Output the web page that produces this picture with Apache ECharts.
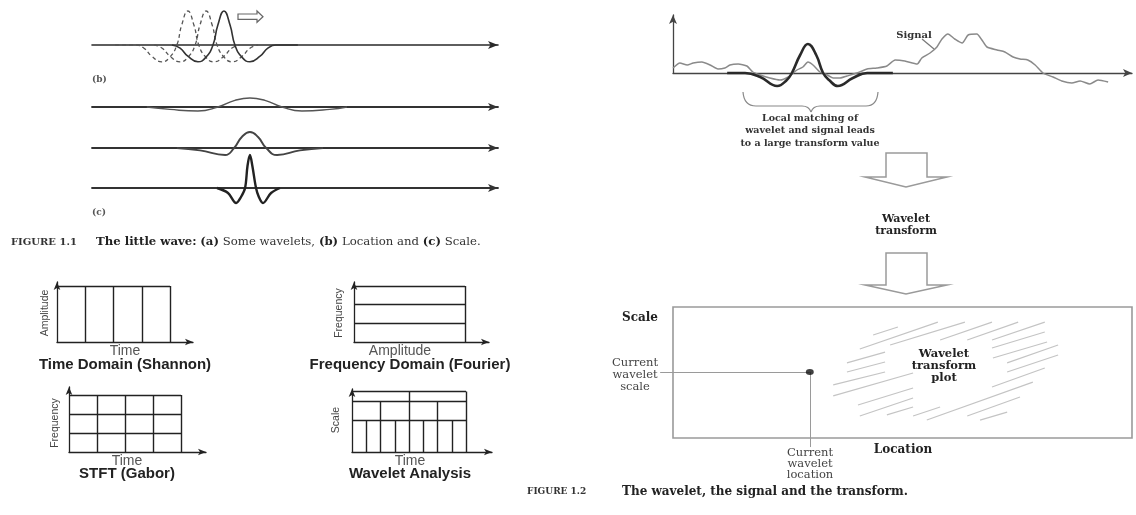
<!DOCTYPE html>
<html><head><meta charset="utf-8">
<script src="https://cdn.jsdelivr.net/npm/echarts/dist/echarts.min.js"></script>
<style>html,body{margin:0;padding:0;background:#fff}#c{width:1136px;height:515px}</style>
</head><body><div id="c"></div><script>
// ---------- DATA ----------
// (b) Location: wavelet shifted along time (amplitude units)
const locDash1 = [[5.7,0],[10.8,0],[12.8,-0.08],[14.7,-0.28],[17.2,-0.42],[19.2,-0.3],[20.9,0],[22.1,0.5],[23.6,0.85],[25.1,0.5],[26.3,0],[28.0,-0.3],[30.0,-0.42],[32.5,-0.28],[34.4,-0.08],[36.4,0]];
const locDash2 = [[15.3,0],[17.3,-0.08],[19.2,-0.28],[21.7,-0.42],[23.7,-0.3],[25.4,0],[26.6,0.5],[28.1,0.85],[29.6,0.5],[30.8,0],[32.5,-0.3],[34.5,-0.42],[37.0,-0.28],[38.9,-0.08],[40.9,0]];
const locSolid = [[19.7,0],[21.7,-0.08],[23.6,-0.28],[26.1,-0.42],[28.1,-0.3],[29.8,0],[31.0,0.5],[32.5,0.85],[34.0,0.5],[35.2,0],[36.9,-0.3],[38.9,-0.42],[41.4,-0.28],[43.3,-0.08],[45.3,0],[50.7,0]];
// (c) Scale: stretched / compressed wavelets
const scaleWide = [[13.5,0],[19.2,-0.12],[26.1,-0.2],[31.0,0],[35.2,0.33],[38.9,0.45],[42.6,0.33],[46.8,0],[51.7,-0.2],[58.6,-0.12],[62.8,0]];
const scaleMid = [[20.9,0],[26.6,-0.12],[32.8,-0.35],[35.0,0],[36.9,0.55],[38.9,0.8],[40.9,0.55],[42.9,0],[45.6,-0.35],[51.2,-0.12],[56.9,0]];
const scaleNarrow = [[30.8,0],[33.5,-0.25],[35.5,-0.75],[36.7,-0.45],[37.7,0],[38.3,1.1],[38.9,1.65],[39.5,1.1],[40.4,0],[41.1,-0.45],[42.1,-0.75],[44.1,-0.25],[46.3,0]];
// tiling diagrams
const shannonTimes = [1,2,3,4];
const fourierFreqs = [1,2,3];
const gaborTimes = [1,2,3,4];
const gaborFreqs = [1,2,3];
const waveletScales = [3.15,5.1,6.05];
const waveletTimesByLevel = [[1,3,5,7],[2,6],[4,8]];
// Figure 1.2: signal and local wavelet
const signal = [[0,0.25],[1.5,0.5],[3.1,0.4],[4.4,0.5],[6.3,0.55],[8.1,0.4],[9.8,0.2],[11.3,0.25],[12.4,0.4],[14.2,0.45],[16.1,0.35],[17.4,0.05],[19.0,-0.1],[21.1,-0.25],[23.3,-0.35],[25.1,-0.2],[27.0,0.15],[28.3,0.3],[29.4,0.55],[30.5,0.4],[32.0,0.05],[33.6,-0.1],[34.9,-0.25],[36.4,-0.25],[37.9,-0.15],[40.1,0],[42.3,0.2],[44.4,0.25],[46.6,0.35],[48.4,0.65],[50.5,0.6],[53.2,0.45],[54.2,0.75],[56.0,1.0],[57.5,1.3],[58.6,1.7],[59.9,1.95],[61.4,1.7],[63.0,1.5],[64.3,1.9],[66.2,1.95],[67.3,1.65],[68.4,1.3],[70.6,1.15],[72.3,1.05],[74.1,0.8],[75.6,0.7],[77.3,0.65],[78.9,0.4],[80.6,0],[82.8,-0.2],[84.7,-0.4],[86.9,-0.5],[88.7,-0.4],[90.8,-0.55],[92.6,-0.35],[94.8,-0.45]];
const localWavelet = [[11.8,0],[15.7,0],[19.0,-0.2],[22.7,-0.65],[24.8,-0.35],[25.9,0],[27.7,0.9],[29.4,1.45],[31.2,0.9],[32.7,0],[34.0,-0.35],[35.9,-0.65],[39.2,-0.25],[42.3,0],[47.9,0]];
// transform plot (location 0-100, scale 0-10)
const currentPoint = [29.8,5.04];
const scaleLeaderStart = -2.8;
const locationLeaderEnd = -0.69;
const hatch = [
 [[43.6,7.86],[49.0,8.47]],[[40.7,6.79],[57.7,8.85]],[[47.3,7.10],[63.6,8.85]],[[58.2,7.48],[69.5,8.85]],
 [[64.1,7.48],[75.2,8.85]],[[69.5,7.48],[81.0,8.85]],[[69.5,6.87],[81.0,8.09]],[[69.7,6.11],[81.5,7.33]],
 [[72.8,5.73],[83.9,7.10]],[[72.8,5.04],[83.9,6.34]],[[69.5,3.89],[81.0,5.34]],[[37.9,5.73],[46.2,6.56]],
 [[37.9,5.04],[46.2,5.80]],[[34.9,4.05],[46.2,5.04]],[[34.9,3.21],[52.3,4.96]],[[40.3,2.52],[52.3,3.82]],
 [[40.7,1.68],[52.3,3.05]],[[46.6,1.76],[52.3,2.37]],[[52.3,1.68],[58.2,2.37]],[[55.3,1.37],[78.4,4.27]],
 [[64.1,1.68],[75.6,3.13]],[[66.9,1.37],[72.8,1.98]]
];

// ---------- BUILD ----------
const grids = [
 {left:92, top:5, width:406, height:80},
 {left:92, top:67, width:406, height:80},
 {left:92, top:108, width:406, height:80},
 {left:92, top:148, width:406, height:80},
 {left:57, top:282, width:136, height:60},
 {left:354, top:282, width:135, height:60},
 {left:69, top:387, width:137, height:65},
 {left:352, top:389, width:140, height:63},
 {left:673, top:15, width:459, height:58},
 {left:673, top:307, width:459, height:131, show:true, borderColor:'#9a9a9a', borderWidth:1.6}
];
function ax(gi, min, max, show, color, width, size){
  return {gridIndex:gi, type:'value', min, max, show,
    axisLine:{show:true, onZero:true, symbol:['none','arrow'], symbolSize:size||[6,9], lineStyle:{color:color||'#333', width:width||1.5}},
    axisTick:{show:false}, axisLabel:{show:false}, splitLine:{show:false}};
}
const xAxes = [
 ax(0,0,100,true,'#2a2a2a',1.6,[6,10]), ax(1,0,100,true,'#333',1.8,[6,10]), ax(2,0,100,true,'#333',1.8,[6,10]), ax(3,0,100,true,'#333',1.8,[6,10]),
 ax(4,0,4.81,true,'#222',1.3,[5,8]), ax(5,0,1.216,true,'#222',1.3,[5,8]), ax(6,0,4.89,true,'#222',1.3,[5,8]), ax(7,0,9.82,true,'#222',1.3,[5,8]),
 ax(8,0,100,true,'#444',1.3,[6,9]), ax(9,0,100,false)
];
const yAxes = [
 ax(0,-1,1,false), ax(1,-2,2,false), ax(2,-2,2,false), ax(3,-2,2,false),
 ax(4,0,1.07,true,'#222',1.3,[5,8]), ax(5,0,3.21,true,'#222',1.3,[5,8]), ax(6,0,3.42,true,'#222',1.3,[5,8]), ax(7,0,6.3,true,'#222',1.3,[5,8]),
 ax(8,0,2.9,true,'#444',1.3,[6,9]), ax(9,0,10,false)
];
function curve(gi, data, color, width, type, smooth){
  return {type:'line', xAxisIndex:gi, yAxisIndex:gi, data, showSymbol:false, symbol:'none', smooth:smooth===undefined?0.5:smooth, clip:false, silent:true,
    lineStyle:{color, width, type:type||'solid'}};
}
function segs(gi, list, color, width, clip){
  return {type:'lines', coordinateSystem:'cartesian2d', xAxisIndex:gi, yAxisIndex:gi, polyline:false, silent:true, clip:clip!==false,
    symbol:'none', effect:{show:false}, lineStyle:{color, width, opacity:1}, data:list.map(c=>({coords:c}))};
}
// tiling segments
const shannonSegs = shannonTimes.map(t=>[[t,0],[t,1]]).concat([[[0,1],[4,1]]]);
const fourierSegs = fourierFreqs.map(f=>[[0,f],[1,f]]).concat([[[1,0],[1,3]]]);
const gaborSegs = gaborTimes.map(t=>[[t,0],[t,3]]).concat(gaborFreqs.map(f=>[[0,f],[4,f]]));
const waveletSegs = waveletScales.map(s=>[[0,s],[8,s]]);
waveletTimesByLevel.forEach((ts,i)=>ts.forEach(t=>waveletSegs.push([[t,0],[t,waveletScales[i]]])));

const series = [
 curve(0, locDash1, '#555', 1.3, [4,3]),
 curve(0, locDash2, '#555', 1.3, [4,3]),
 curve(0, locSolid, '#333', 1.6),
 curve(1, scaleWide, '#555', 1.4),
 curve(2, scaleMid, '#444', 1.9),
 curve(3, scaleNarrow, '#222', 2.4, 'solid', 0.35),
 segs(4, shannonSegs, '#222', 1.4),
 segs(5, fourierSegs, '#222', 1.4),
 segs(6, gaborSegs, '#222', 1.4),
 segs(7, waveletSegs, '#222', 1.4),
 curve(8, signal, '#8a8a8a', 1.5, 'solid', 0.2),
 curve(8, localWavelet, '#2a2a2a', 2.6, 'solid', 0.45),
 segs(9, hatch, '#c4c4c4', 1.2),
 segs(9, [[[scaleLeaderStart,currentPoint[1]],currentPoint],[currentPoint,[currentPoint[0],locationLeaderEnd]]], '#9a9a9a', 1, false),
 {type:'scatter', xAxisIndex:9, yAxisIndex:9, data:[currentPoint], symbol:'circle', symbolSize:[8,6], itemStyle:{color:'#111'}, silent:true, z:5}
];

// ---------- TEXT / ANNOTATIONS ----------
const SERIF = 'DejaVu Serif';
const SANS = 'Liberation Sans';
function T(x, y, text, font, o){
  o = o || {};
  const al = o.align || 'center';
  return {type:'text', x, y, rotation:o.rot||0, silent:true, z:10,
    style:{text, font, fill:o.fill||'#222', textAlign:al, align:al, textVerticalAlign:'middle', verticalAlign:'middle', lineHeight:o.lh, rich:o.rich}};
}
function Q(x1,y1,cx,cy,x2,y2){
  return {type:'bezierCurve', silent:true, shape:{x1,y1,x2,y2,cpx1:cx,cpy1:cy}, style:{fill:'none', stroke:'#888', lineWidth:1.2}};
}
function L(x1,y1,x2,y2,c){
  return {type:'line', silent:true, shape:{x1,y1,x2,y2}, style:{stroke:c||'#888', lineWidth:1.2}};
}
const R = Math.PI/2;
const graphic = [
 // Fig 1.1
 {type:'polygon', silent:true, shape:{points:[[238,14],[257,14],[257,11],[263,16.7],[257,22.3],[257,19.3],[238,19.3]]}, style:{fill:'#fff', stroke:'#666', lineWidth:1.2}},
 T(92,80,'(b)','bold 9px '+SERIF,{align:'left', fill:'#555'}),
 T(92,213,'(c)','bold 9px '+SERIF,{align:'left', fill:'#555'}),
 T(11,242,'FIGURE 1.1','bold 10px '+SERIF,{align:'left', fill:'#333'}),
 T(96,242,'{b|The little wave:} {b|(a)} {r|Some wavelets,} {b|(b)} {r|Location and} {b|(c)} {r|Scale.}','12px '+SERIF,{align:'left',
   rich:{b:{font:'bold 11.7px '+SERIF, fill:'#222'}, r:{font:'11.7px '+SERIF, fill:'#333'}}}),
 T(45,313,'Amplitude','10.5px '+SANS,{rot:R, fill:'#444'}),
 T(125,351.5,'Time','14px '+SANS,{fill:'#555'}),
 T(125,365,'Time Domain (Shannon)','bold 15px '+SANS),
 T(339,313,'Frequency','10.5px '+SANS,{rot:R, fill:'#444'}),
 T(400,351.5,'Amplitude','14px '+SANS,{fill:'#555'}),
 T(410,365,'Frequency Domain (Fourier)','bold 15px '+SANS),
 T(55,423,'Frequency','10.5px '+SANS,{rot:R, fill:'#444'}),
 T(127,461,'Time','14px '+SANS,{fill:'#555'}),
 T(127,474,'STFT (Gabor)','bold 15px '+SANS),
 T(336,420,'Scale','10.5px '+SANS,{rot:R, fill:'#444'}),
 T(410,461,'Time','14px '+SANS,{fill:'#555'}),
 T(410,474,'Wavelet Analysis','bold 15px '+SANS),
 // Fig 1.2
 T(914,35,'Signal','bold 10px '+SERIF,{fill:'#333'}),
 L(922,39,934,49,'#777'),
 Q(743,92,744,106,756,106), L(756,106,802,106), Q(802,106,809,106,811,112),
 Q(811,112,813,106,820,106), L(820,106,866,106), Q(866,106,877,106,878,92),
 T(810,131,'Local matching of\nwavelet and signal leads\nto a large transform value','bold 9.5px '+SERIF,{lh:12.5, fill:'#333'}),
 {type:'polygon', silent:true, shape:{points:[[886,153],[927,153],[927,177],[947,177],[906,187],[865,177],[886,177]]}, style:{fill:'#fff', stroke:'#9a9a9a', lineWidth:1.5}},
 T(906,225,'Wavelet\ntransform','bold 11px '+SERIF,{lh:11.5}),
 {type:'polygon', silent:true, shape:{points:[[886,253],[927,253],[927,285],[947,285],[906,294],[865,285],[886,285]]}, style:{fill:'#fff', stroke:'#9a9a9a', lineWidth:1.5}},
 T(658,318,'Scale','bold 12px '+SERIF,{align:'right'}),
 T(635,375,'Current\nwavelet\nscale','11.5px '+SERIF,{lh:12, fill:'#444'}),
 T(944,366,'Wavelet\ntransform\nplot','bold 11.5px '+SERIF,{lh:12}),
 T(903,450,'Location','bold 12px '+SERIF),
 T(810,464,'Current\nwavelet\nlocation','11.5px '+SERIF,{lh:11.2, fill:'#444'}),
 T(527,492,'FIGURE 1.2','bold 9px '+SERIF,{align:'left', fill:'#333'}),
 T(622,492,'The wavelet, the signal and the transform.','bold 12px '+SERIF,{align:'left'})
];

const chart = echarts.init(document.getElementById('c'), null, {renderer:'canvas'});
chart.setOption({animation:false, backgroundColor:'#fff', grid:grids, xAxis:xAxes, yAxis:yAxes, series, graphic});
</script></body></html>
